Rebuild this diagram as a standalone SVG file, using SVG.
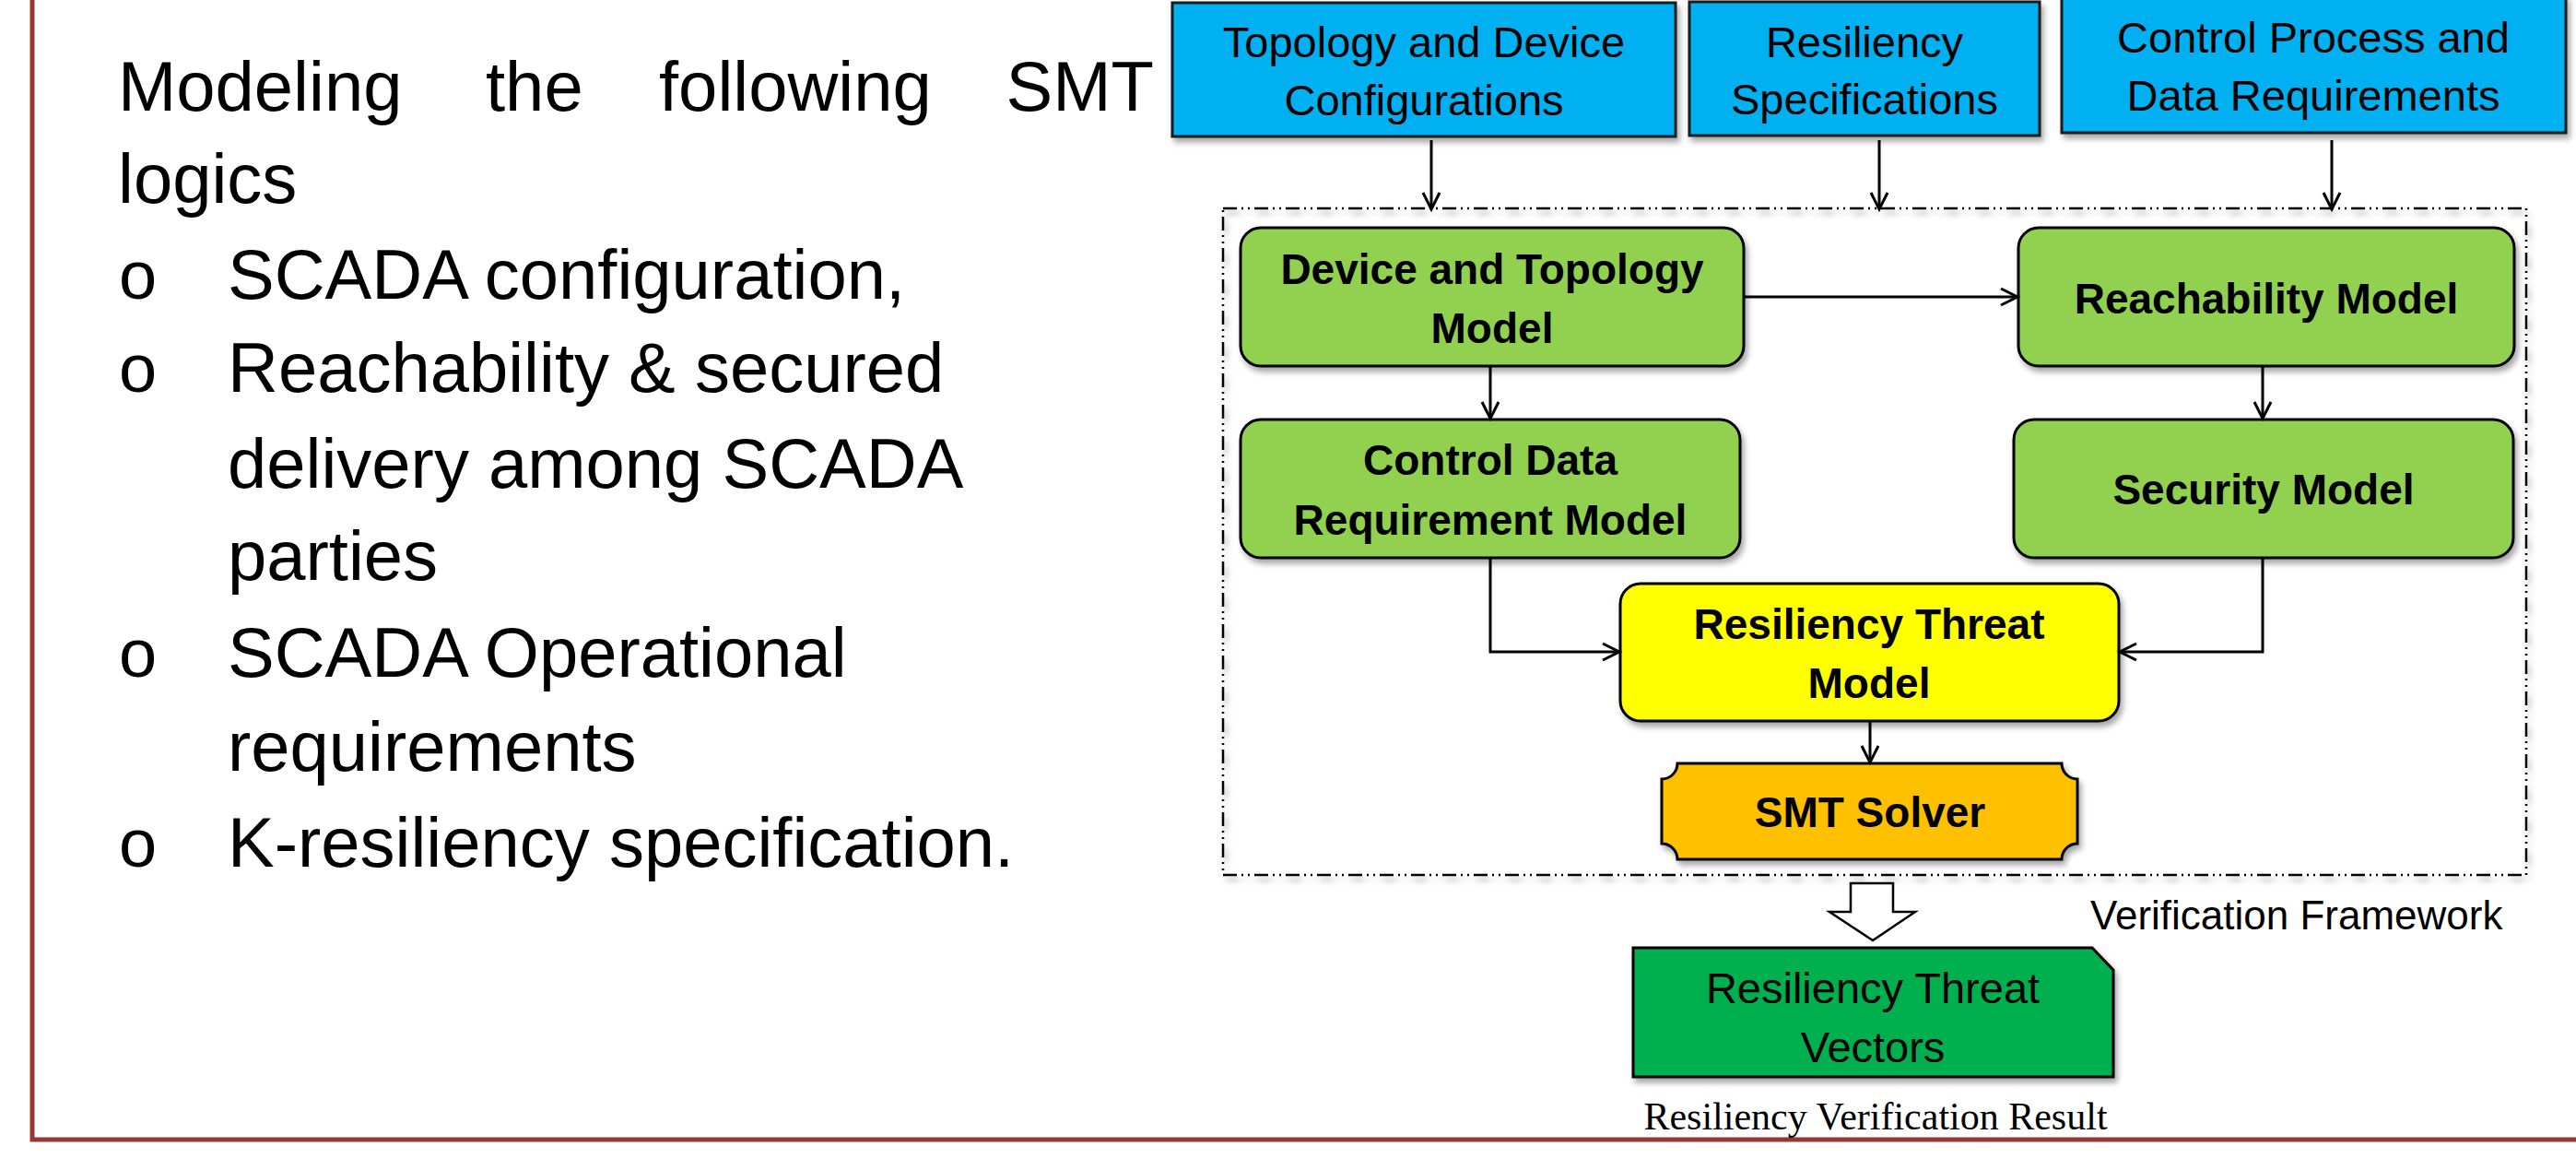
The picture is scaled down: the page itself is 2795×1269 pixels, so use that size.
<svg xmlns="http://www.w3.org/2000/svg" width="2795" height="1269" viewBox="0 0 2795 1269">
<style>
  .sans { font-family: "Liberation Sans", Arial, sans-serif; fill: #000; }
  .serif { font-family: "Liberation Serif", "Times New Roman", serif; fill: #000; }
  .body { font-size: 76px; }
  .bullet { font-size: 74px; }
  .blue { fill: #00B0F0; stroke: #1a1a1a; stroke-width: 3; }
  .green { fill: #92D050; stroke: #000; stroke-width: 3; }
  .yellow { fill: #FFFF00; stroke: #000; stroke-width: 3; }
  .orange { fill: #FFC000; stroke: #000; stroke-width: 3; }
  .dgreen { fill: #00B050; stroke: #000; stroke-width: 3; }
  .intext { font-size: 47px; text-anchor: middle; }
  .bold { font-size: 46px; font-weight: bold; text-anchor: middle; }
  .conn { fill: none; stroke: #000; stroke-width: 3; }
</style>
<defs>
  <filter id="sh" x="-10%" y="-10%" width="130%" height="140%">
    <feDropShadow dx="3" dy="5" stdDeviation="3" flood-color="#000" flood-opacity="0.35"/>
  </filter>
  <marker id="ah" markerUnits="userSpaceOnUse" markerWidth="24" markerHeight="24" refX="19" refY="11" orient="auto">
    <path d="M1,2 L19,11 L1,20" fill="none" stroke="#000" stroke-width="3"/>
  </marker>
</defs>

<!-- slide border -->
<g id="border">
  <path d="M35,0 L35,1236 L2795,1236" fill="none" stroke="#953735" stroke-width="5"/>
</g>

<!-- left text -->
<g id="bullet-text" class="sans body">
  <text x="128" y="120">Modeling</text>
  <text x="527" y="120">the</text>
  <text x="715" y="120">following</text>
  <text x="1252" y="120" text-anchor="end">SMT</text>
  <text x="128" y="220">logics</text>
  <text x="129" y="324" class="bullet">o</text>
  <text x="247" y="324">SCADA configuration,</text>
  <text x="129" y="425" class="bullet">o</text>
  <text x="247" y="425">Reachability &amp; secured</text>
  <text x="247" y="529">delivery among SCADA</text>
  <text x="247" y="629">parties</text>
  <text x="129" y="734" class="bullet">o</text>
  <text x="247" y="734">SCADA Operational</text>
  <text x="247" y="836">requirements</text>
  <text x="129" y="940" class="bullet">o</text>
  <text x="247" y="940">K-resiliency specification.</text>
</g>

<!-- verification framework frame -->
<g id="framework">
  <rect x="1327" y="226" width="1414" height="723" fill="none" stroke="#000" stroke-width="2.5" stroke-dasharray="15 5 2 5 2 5" filter="url(#sh)"/>
  <text class="sans" x="2268" y="1008" font-size="44">Verification Framework</text>
</g>

<!-- input nodes -->
<g id="topology-config">
  <rect class="blue" x="1272" y="3" width="546" height="145" filter="url(#sh)"/>
  <text class="sans intext" x="1545" y="62">Topology and Device</text>
  <text class="sans intext" x="1545" y="125">Configurations</text>
</g>
<g id="resiliency-spec">
  <rect class="blue" x="1833" y="2" width="380" height="145" filter="url(#sh)"/>
  <text class="sans intext" x="2023" y="62">Resiliency</text>
  <text class="sans intext" x="2023" y="124">Specifications</text>
</g>
<g id="control-process">
  <rect class="blue" x="2237" y="-4" width="547" height="148" filter="url(#sh)"/>
  <text class="sans intext" x="2510" y="57">Control Process and</text>
  <text class="sans intext" x="2510" y="120">Data Requirements</text>
</g>

<!-- model nodes -->
<g id="device-topology-model">
  <rect class="green" x="1346" y="247" width="546" height="150" rx="22" ry="22" filter="url(#sh)"/>
  <text class="sans bold" x="1619" y="308">Device and Topology</text>
  <text class="sans bold" x="1619" y="372">Model</text>
</g>
<g id="reachability-model">
  <rect class="green" x="2190" y="247" width="538" height="150" rx="22" ry="22" filter="url(#sh)"/>
  <text class="sans bold" x="2459" y="340">Reachability Model</text>
</g>
<g id="control-data-model">
  <rect class="green" x="1346" y="455" width="542" height="150" rx="22" ry="22" filter="url(#sh)"/>
  <text class="sans bold" x="1617" y="515">Control Data</text>
  <text class="sans bold" x="1617" y="580">Requirement Model</text>
</g>
<g id="security-model">
  <rect class="green" x="2185" y="455" width="542" height="150" rx="22" ry="22" filter="url(#sh)"/>
  <text class="sans bold" x="2456" y="547">Security Model</text>
</g>
<g id="threat-model">
  <rect class="yellow" x="1758" y="633" width="541" height="149" rx="22" ry="22" filter="url(#sh)"/>
  <text class="sans bold" x="2028" y="693">Resiliency Threat</text>
  <text class="sans bold" x="2028" y="757">Model</text>
</g>
<g id="smt-solver">
  <path class="orange" d="M1820,828 L2237,828 A17,17 0 0 0 2254,845 L2254,915 A17,17 0 0 0 2237,932 L1820,932 A17,17 0 0 0 1803,915 L1803,845 A17,17 0 0 0 1820,828 Z" filter="url(#sh)"/>
  <text class="sans bold" x="2029" y="897">SMT Solver</text>
</g>

<!-- output -->
<g id="threat-vectors">
  <path class="dgreen" d="M1772,1028 L2270,1028 L2293,1052 L2293,1168 L1772,1168 Z" filter="url(#sh)"/>
  <text class="sans intext" x="2032" y="1088">Resiliency Threat</text>
  <text class="sans intext" x="2032" y="1152">Vectors</text>
  <text class="serif" x="2035" y="1225" font-size="42" text-anchor="middle">Resiliency Verification Result</text>
</g>

<!-- connectors -->
<g id="connectors">
  <line class="conn" x1="1553" y1="152" x2="1553" y2="227" marker-end="url(#ah)"/>
  <line class="conn" x1="2039" y1="152" x2="2039" y2="227" marker-end="url(#ah)"/>
  <line class="conn" x1="2530" y1="152" x2="2530" y2="227" marker-end="url(#ah)"/>
  <line class="conn" x1="1892" y1="322" x2="2189" y2="322" marker-end="url(#ah)"/>
  <line class="conn" x1="1617" y1="397" x2="1617" y2="454" marker-end="url(#ah)"/>
  <line class="conn" x1="2455" y1="397" x2="2455" y2="454" marker-end="url(#ah)"/>
  <path class="conn" d="M1617,605 L1617,707 L1757,707" marker-end="url(#ah)"/>
  <path class="conn" d="M2455,605 L2455,707 L2300,707" marker-end="url(#ah)"/>
  <line class="conn" x1="2029" y1="782" x2="2029" y2="827" marker-end="url(#ah)"/>
  <polygon points="2008,958 2054,958 2054,989 2078,989 2032,1020 1985,989 2008,989" fill="#fff" stroke="#000" stroke-width="2.5"/>
</g>
</svg>
